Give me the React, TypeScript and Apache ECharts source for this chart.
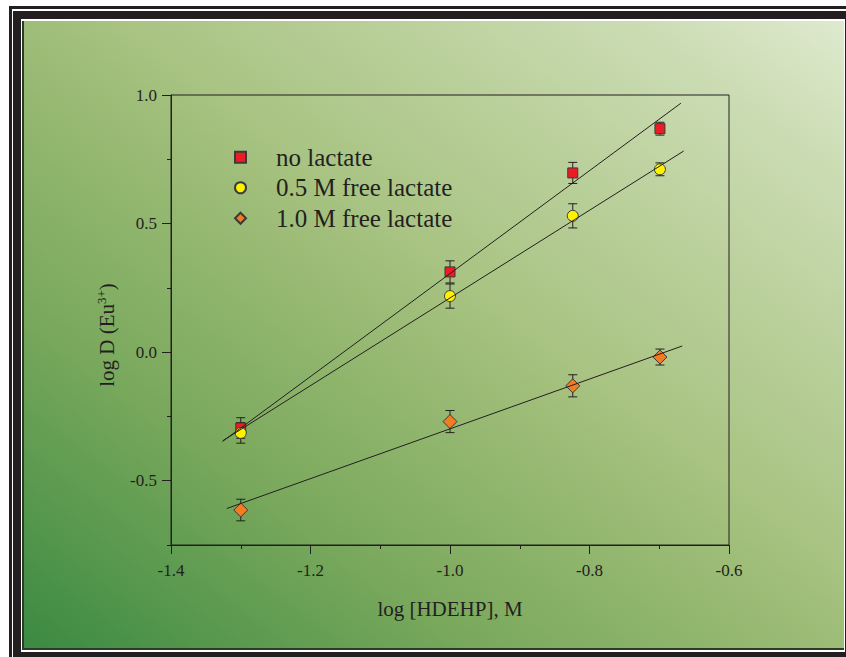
import React, { useEffect, useRef } from "react";
import * as echarts from "echarts";

// log [HDEHP], M
const xLogHDEHP = [-1.3, -1.0, -0.824, -0.699];

// log D (Eu3+) values and error half-widths
const noLactate = [-0.295, 0.312, 0.697, 0.869];
const noLactateErr = [0.04, 0.043, 0.041, 0.025];
const halfMolar = [-0.314, 0.218, 0.53, 0.711];
const halfMolarErr = [0.04, 0.047, 0.047, 0.025];
const oneMolar = [-0.614, -0.27, -0.131, -0.019];
const oneMolarErr = [0.042, 0.043, 0.043, 0.031];

// fitted straight lines (end points)
const fitXNo = [-1.326, -0.669];
const fitYNo = [-0.347, 0.968];
const fitXHalf = [-1.326, -0.665];
const fitYHalf = [-0.345, 0.782];
const fitXOne = [-1.32, -0.667];
const fitYOne = [-0.608, 0.024];

const seriesNames = ["no lactate", "0.5 M free lactate", "1.0 M free lactate"];
const xTicks = [-1.4, -1.2, -1.0, -0.8, -0.6];
const yMajorTicks = [-0.5, 0.0, 0.5, 1.0];
const yMinorTicks = [-0.75, -0.25, 0.25, 0.75];

const FONT = "'Liberation Serif', 'Times New Roman', serif";
const INK = "#231f20";

function pairs(xs: number[], ys: number[]) {
  return xs.map((x, i) => [x, ys[i]]);
}
function errTriples(xs: number[], ys: number[], es: number[]) {
  return xs.map((x, i) => [x, ys[i], es[i]]);
}

function errorSeries(data: number[][]) {
  return {
    type: "custom",
    z: 3,
    silent: true,
    data,
    renderItem: (params: any, api: any) => {
      const x = api.value(0);
      const y = api.value(1);
      const e = api.value(2);
      const top = api.coord([x, y + e]);
      const bot = api.coord([x, y - e]);
      const hw = 4.5;
      const style = { stroke: INK, lineWidth: 1 };
      return {
        type: "group",
        children: [
          { type: "line", shape: { x1: top[0], y1: top[1], x2: bot[0], y2: bot[1] }, style },
          { type: "line", shape: { x1: top[0] - hw, y1: top[1], x2: top[0] + hw, y2: top[1] }, style },
          { type: "line", shape: { x1: bot[0] - hw, y1: bot[1], x2: bot[0] + hw, y2: bot[1] }, style },
        ],
      };
    },
  };
}

function fitSeries(xs: number[], ys: number[]) {
  return {
    type: "line",
    z: 5,
    silent: true,
    symbol: "none",
    data: pairs(xs, ys),
    lineStyle: { color: INK, width: 1 },
  };
}

export default function App() {
  const ref = useRef<HTMLDivElement>(null);
  useEffect(() => {
    if (!ref.current) return;
    const chart = echarts.init(ref.current, undefined, { renderer: "svg" });
    const bg = new echarts.graphic.LinearGradient(
      22,
      650,
      622,
      -150,
      [
        { offset: 0, color: "#3a8942" },
        { offset: 0.09, color: "#4f944a" },
        { offset: 0.28, color: "#7aa95d" },
        { offset: 0.5, color: "#9ebd78" },
        { offset: 0.56, color: "#a8c382" },
        { offset: 0.87, color: "#cbdcb3" },
        { offset: 1, color: "#dfeacf" },
      ],
      true
    );
    const option: any = {
      animation: false,
      graphic: {
        z: -10,
        elements: [
          { type: "rect", z: -10, shape: { x: 9, y: 6, width: 860, height: 670 }, style: { fill: INK } },
          { type: "rect", z: -10, shape: { x: 12, y: 9, width: 860, height: 670 }, style: { fill: "#ffffff" } },
          { type: "rect", z: -10, shape: { x: 13, y: 11, width: 860, height: 670 }, style: { fill: INK } },
          { type: "rect", z: -10, shape: { x: 21, y: 19, width: 824, height: 633 }, style: { fill: "#ffffff" } },
          { type: "rect", z: -10, shape: { x: 22, y: 21, width: 822, height: 629 }, style: { fill: bg } },
          {
            type: "polyline",
            z: -9,
            shape: { points: [[23, 21], [23, 649], [844, 649]] },
            style: { stroke: "#2b3a2b", lineWidth: 2, fill: null },
          },
        ],
      },
      grid: {
        left: 171,
        right: 117,
        top: 95,
        bottom: 112,
        show: true,
        borderColor: INK,
        borderWidth: 1,
        backgroundColor: "transparent",
      },
      legend: {
        orient: "vertical",
        left: 234,
        top: 142,
        padding: 0,
        itemGap: 0,
        itemWidth: 11,
        itemHeight: 11,
        data: seriesNames,
        textStyle: {
          fontFamily: FONT,
          fontSize: 25,
          color: INK,
          lineHeight: 30.5,
          padding: [0, 0, 0, 25],
        },
      },
      xAxis: {
        type: "value",
        min: -1.4,
        max: -0.6,
        interval: 0.2,
        name: "log [HDEHP], M",
        nameLocation: "middle",
        nameGap: 53,
        nameTextStyle: { fontFamily: FONT, fontSize: 21, color: INK },
        axisLine: { show: true, onZero: false, lineStyle: { color: INK, width: 1 } },
        axisTick: { show: true, length: 9, lineStyle: { color: INK, width: 1 } },
        minorTick: { show: true, splitNumber: 2, length: 4, lineStyle: { color: INK, width: 1 } },
        axisLabel: {
          margin: 17,
          fontFamily: FONT,
          fontSize: 17,
          color: INK,
          customValues: xTicks,
          formatter: (v: number) => v.toFixed(1),
        },
        splitLine: { show: false },
      },
      yAxis: [
        {
          type: "value",
          min: -0.75,
          max: 1.0,
          position: "left",
          name: "{a|log D (Eu}{s|3+}{b|)}",
          nameLocation: "middle",
          nameGap: 52,
          nameTextStyle: {
            fontFamily: FONT,
            fontSize: 21,
            color: INK,
            rich: {
              a: { fontFamily: FONT, fontSize: 21, color: INK, lineHeight: 24 },
              s: { fontFamily: FONT, fontSize: 13, color: INK, verticalAlign: "top", lineHeight: 14 },
              b: { fontFamily: FONT, fontSize: 21, color: INK, lineHeight: 24, padding: [0, 30, 0, 0] },
            },
          },
          axisLine: { show: true, onZero: false, lineStyle: { color: INK, width: 1 } },
          axisTick: {
            show: true,
            length: 9,
            customValues: yMajorTicks,
            lineStyle: { color: INK, width: 1 },
          },
          axisLabel: {
            margin: 14,
            fontFamily: FONT,
            fontSize: 17,
            color: INK,
            customValues: yMajorTicks,
            formatter: (v: number) => v.toFixed(1),
          },
          splitLine: { show: false },
        },
        {
          type: "value",
          min: -0.75,
          max: 1.0,
          position: "left",
          offset: 0,
          axisLine: { show: false, onZero: false },
          axisLabel: { show: false },
          splitLine: { show: false },
          axisTick: {
            show: true,
            length: 4,
            customValues: yMinorTicks,
            lineStyle: { color: INK, width: 1 },
          },
        },
      ],
      series: [
        errorSeries(errTriples(xLogHDEHP, noLactate, noLactateErr)),
        errorSeries(errTriples(xLogHDEHP, halfMolar, halfMolarErr)),
        errorSeries(errTriples(xLogHDEHP, oneMolar, oneMolarErr)),
        {
          name: seriesNames[0],
          type: "scatter",
          z: 4,
          symbol: "rect",
          symbolSize: 10,
          data: pairs(xLogHDEHP, noLactate),
          itemStyle: { color: "#ec1c24", borderColor: "#3a3a3a", borderWidth: 1, opacity: 1 },
        },
        {
          name: seriesNames[1],
          type: "scatter",
          z: 4,
          symbol: "circle",
          symbolSize: 11,
          data: pairs(xLogHDEHP, halfMolar),
          itemStyle: { color: "#fff200", borderColor: "#3a3a3a", borderWidth: 1, opacity: 1 },
        },
        {
          name: seriesNames[2],
          type: "scatter",
          z: 4,
          symbol: "diamond",
          symbolSize: 14,
          data: pairs(xLogHDEHP, oneMolar),
          itemStyle: { color: "#f47b20", borderColor: "#3a3a3a", borderWidth: 1, opacity: 1 },
        },
        fitSeries(fitXNo, fitYNo),
        fitSeries(fitXHalf, fitYHalf),
        fitSeries(fitXOne, fitYOne),
      ],
    };
    chart.setOption(option);
    return () => chart.dispose();
  }, []);
  return (
    <div
      ref={ref}
      style={{ position: "absolute", left: 0, top: 0, width: 846, height: 657 }}
    />
  );
}
